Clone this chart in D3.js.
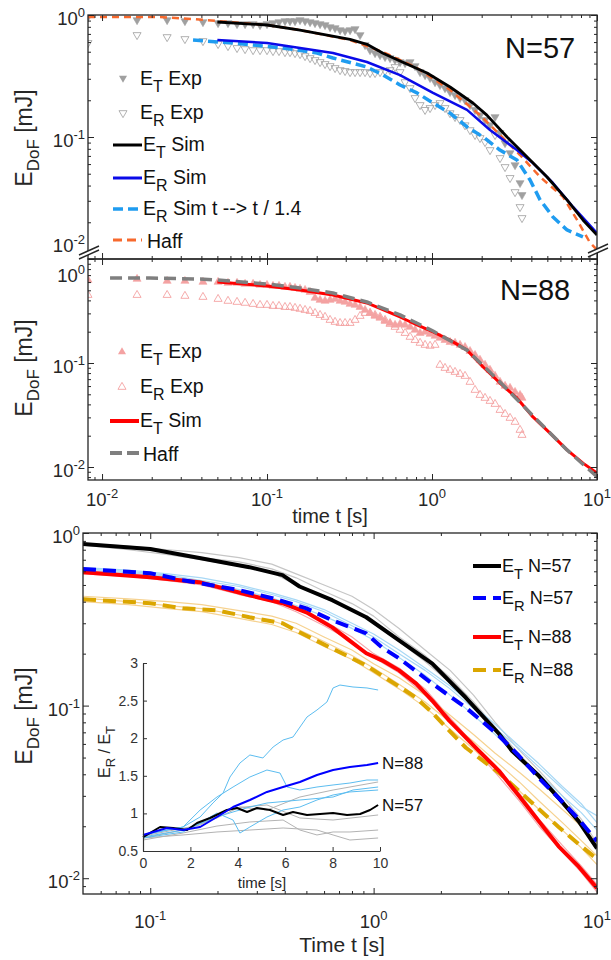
<!DOCTYPE html>
<html><head><meta charset="utf-8">
<script src="https://cdn.jsdelivr.net/npm/d3@7/dist/d3.min.js"></script>
<style>
html,body{margin:0;padding:0;background:#fff;}
svg{font-family:"Liberation Sans",Arial,Helvetica,sans-serif;display:block}
text{white-space:pre}
</style></head><body>
<svg id="chart" width="611" height="960" viewBox="0 0 611 960"></svg>
<script>
// ---------------- DATA ----------------
// experimental time grid (both N=57 and N=88 experiments), seconds
const tExp = [0.00822,0.0163,0.0248,0.0318,0.0409,0.0505,0.0580,0.0658,0.0736,0.0823,0.0907,0.1000,0.1087,0.1182,0.1285,0.1378,0.1478,0.1585,0.1700,0.1823,0.1954,0.2096,0.2247,0.2410,0.2584,0.2771,0.2971,0.3186,0.3416,0.3663,0.3928,0.4211,0.4516,0.4842,0.5192,0.5567,0.5970,0.6401,0.6864,0.7360,0.7892,0.8462,0.9074,0.9730,1.043,1.118,1.199,1.286,1.379,1.479,1.585,1.700,1.823,1.954,2.096,2.247,2.410,2.584,2.771,2.971,3.186,3.416,3.511];
const ET57exp = [0.963,0.910,0.910,0.893,0.876,0.860,0.860,0.844,0.844,0.844,0.828,0.844,0.860,0.876,0.893,0.893,0.893,0.910,0.893,0.876,0.860,0.844,0.828,0.797,0.782,0.753,0.739,0.753,0.768,0.686,0.568,0.516,0.488,0.470,0.453,0.444,0.428,0.412,0.404,0.412,0.382,0.341,0.322,0.305,0.282,0.267,0.252,0.234,0.221,0.209,0.201,0.183,0.167,0.151,0.138,0.125,0.146,0.108,0.0893,0.0739,0.0589,0.0420,0.0335];
const ER57exp = [0.590,0.686,0.660,0.636,0.612,0.579,0.557,0.537,0.526,0.516,0.516,0.516,0.507,0.507,0.497,0.497,0.488,0.479,0.461,0.444,0.428,0.412,0.397,0.382,0.368,0.354,0.348,0.341,0.341,0.341,0.341,0.335,0.335,0.341,0.348,0.354,0.375,0.341,0.282,0.252,0.209,0.183,0.167,0.173,0.183,0.190,0.173,0.157,0.146,0.138,0.125,0.114,0.104,0.0982,0.0910,0.0782,0.104,0.0673,0.0568,0.0462,0.0354,0.0267,0.0217];
const ET88exp = [0.628,0.642,0.614,0.614,0.601,0.601,0.588,0.588,0.575,0.575,0.562,0.562,0.550,0.550,0.538,0.538,0.526,0.515,0.503,0.481,0.422,0.403,0.395,0.403,0.412,0.395,0.386,0.369,0.361,0.345,0.323,0.302,0.283,0.271,0.253,0.242,0.232,0.237,0.232,0.222,0.208,0.194,0.199,0.190,0.182,0.174,0.166,0.159,0.156,0.149,0.142,0.130,0.119,0.107,0.0957,0.0857,0.0750,0.0657,0.0601,0.0575,0.0526,0.0492,0.0461];
const ER88exp = [0.450,0.450,0.450,0.441,0.431,0.412,0.395,0.386,0.378,0.369,0.361,0.361,0.353,0.353,0.345,0.345,0.338,0.331,0.323,0.316,0.302,0.289,0.277,0.259,0.248,0.242,0.242,0.242,0.259,0.283,0.302,0.302,0.289,0.277,0.259,0.237,0.222,0.208,0.194,0.178,0.166,0.156,0.149,0.146,0.149,0.0957,0.0895,0.0857,0.0819,0.0783,0.0750,0.0657,0.0550,0.0492,0.0461,0.0431,0.0403,0.0353,0.0323,0.0296,0.0271,0.0227,0.0203];

// top panel simulations (N=57)
const tET57sim = [0.050,0.100,0.1585,0.3186,0.403,0.505,0.640,0.933,1.286,1.77,2.15,2.85,3.77,4.98,6.58,8.22,10];
const ET57sim  = [0.876,0.828,0.753,0.632,0.575,0.485,0.420,0.335,0.257,0.190,0.151,0.100,0.0686,0.0470,0.0305,0.0209,0.0157];
const tER57sim = [0.050,0.100,0.1585,0.251,0.403,0.640,1.014,1.63,2.247,3.27,4.09,5.41,7.16,10];
const ER57sim  = [0.624,0.590,0.537,0.488,0.412,0.322,0.230,0.167,0.114,0.0782,0.0612,0.0420,0.0267,0.0163];
const tER57scaled = [0.0356,0.0622,0.125,0.201,0.251,0.403,0.505,0.640,0.811,1.014,1.286,1.63,2.04,2.58,3.27,3.93,4.52,5.41,6.58,8.22];
const ER57scaled  = [0.624,0.589,0.537,0.488,0.444,0.375,0.322,0.267,0.230,0.190,0.157,0.121,0.100,0.0782,0.0648,0.0444,0.0305,0.0221,0.0173,0.0152];
const tHaff57 = [0.00822,0.01285,0.0225,0.0356,0.050,0.100,0.1585,0.3186,0.505,0.811,1.286,1.954,2.584,3.416,4.52,6.22,7.57,9.07,10];
const Haff57  = [0.963,0.963,0.963,0.927,0.893,0.828,0.753,0.624,0.497,0.368,0.243,0.151,0.104,0.0712,0.0470,0.0323,0.0209,0.0136,0.0119];

// middle panel simulations (N=88)
const tET88sim = [0.050,0.100,0.1585,0.251,0.403,0.640,0.811,1.014,1.286,1.63,2.04,2.58,3.27,4.09,5.19,6.58,8.22,10];
const ET88sim  = [0.601,0.550,0.503,0.451,0.378,0.277,0.232,0.199,0.166,0.133,0.0916,0.0642,0.0461,0.0303,0.0212,0.0146,0.0109,0.00875];
const tHaff88 = [0.01118,0.01954,0.0393,0.050,0.100,0.1585,0.251,0.403,0.640,1.014,1.63,2.58,4.09,6.58,10];
const Haff88  = [0.656,0.656,0.642,0.628,0.575,0.526,0.471,0.386,0.290,0.203,0.133,0.0658,0.0311,0.0146,0.00807];

// bottom panel: mean curves
const tB_ET57 = [0.05,0.1,0.166,0.278,0.391,0.466,0.653,0.927,1.30,1.83,2.59,3.64,4.16,5.49,6.73,8.27,10];
const B_ET57  = [0.863,0.807,0.716,0.634,0.570,0.490,0.408,0.325,0.239,0.175,0.111,0.0687,0.0547,0.0392,0.0292,0.0214,0.0149];
const tB_ER57 = [0.05,0.1,0.140,0.251,0.352,0.500,0.653,0.927,1.09,1.30,1.83,2.59,3.64,4.47,5.49,6.73,8.27,10];
const B_ER57  = [0.618,0.585,0.533,0.466,0.419,0.366,0.312,0.262,0.217,0.188,0.134,0.0973,0.0669,0.0512,0.0381,0.0292,0.0220,0.0164];
const tB_ET88 = [0.05,0.1,0.166,0.278,0.391,0.500,0.653,0.778,0.927,1.09,1.30,1.55,1.83,2.18,2.59,2.96,3.64,4.47,5.49,6.73,8.27,10];
const B_ET88  = [0.593,0.555,0.519,0.436,0.392,0.347,0.284,0.239,0.201,0.183,0.160,0.134,0.107,0.0818,0.0652,0.0547,0.0419,0.0300,0.0214,0.0153,0.0117,0.00875];
const tB_ER88 = [0.05,0.1,0.140,0.198,0.278,0.391,0.466,0.653,0.927,1.09,1.30,1.55,1.83,2.18,2.59,2.96,3.64,4.47,5.49,6.73,8.27,10];
const B_ER88  = [0.413,0.392,0.366,0.357,0.325,0.300,0.266,0.214,0.171,0.149,0.129,0.111,0.0910,0.0716,0.0570,0.0499,0.0408,0.0321,0.0252,0.0198,0.0158,0.0129];

// bottom panel: individual runs
const tRun = [0.05,0.08,0.12,0.17,0.25,0.35,0.45,0.6,0.8,1.0,1.3,1.7,2.2,2.8,3.5,4.5,5.5,7,8.5,10];
const runET57a = [0.87,0.84,0.80,0.77,0.72,0.66,0.58,0.50,0.43,0.36,0.28,0.21,0.16,0.115,0.080,0.055,0.042,0.030,0.022,0.016];
const runET57b = [0.85,0.80,0.75,0.70,0.64,0.59,0.50,0.42,0.36,0.30,0.235,0.18,0.135,0.10,0.072,0.050,0.038,0.027,0.020,0.0145];
const runET57c = [0.86,0.83,0.78,0.72,0.68,0.62,0.55,0.46,0.39,0.33,0.25,0.195,0.145,0.105,0.075,0.052,0.040,0.028,0.021,0.015];
const runER57a = [0.63,0.61,0.58,0.55,0.50,0.45,0.41,0.36,0.30,0.26,0.21,0.165,0.13,0.10,0.078,0.058,0.046,0.034,0.027,0.021];
const runER57b = [0.61,0.59,0.56,0.52,0.47,0.42,0.38,0.33,0.28,0.24,0.19,0.15,0.115,0.088,0.068,0.050,0.040,0.030,0.024,0.019];
const runER57c = [0.62,0.60,0.57,0.53,0.49,0.44,0.40,0.35,0.29,0.25,0.20,0.16,0.125,0.096,0.074,0.056,0.044,0.033,0.026,0.023];
const runET88a = [0.60,0.58,0.55,0.52,0.46,0.41,0.37,0.31,0.25,0.20,0.165,0.125,0.085,0.060,0.045,0.031,0.022,0.0155,0.0118,0.0092];
const runET88b = [0.58,0.56,0.53,0.50,0.44,0.40,0.35,0.29,0.235,0.19,0.155,0.115,0.080,0.057,0.041,0.028,0.020,0.0142,0.0108,0.0083];
const runER88a = [0.43,0.415,0.40,0.385,0.355,0.33,0.30,0.25,0.21,0.175,0.145,0.115,0.088,0.068,0.053,0.041,0.033,0.025,0.020,0.016];
const runER88b = [0.40,0.385,0.365,0.35,0.32,0.295,0.265,0.22,0.185,0.155,0.125,0.098,0.073,0.056,0.043,0.032,0.025,0.019,0.015,0.012];
const runER88c = [0.42,0.40,0.38,0.365,0.335,0.31,0.28,0.235,0.195,0.165,0.133,0.105,0.080,0.062,0.048,0.036,0.028,0.021,0.0165,0.0135];

// inset: E_R / E_T versus time
const tIn88 = [0,1.01,1.69,2.41,3.12,3.80,4.51,5.23,5.91,6.62,7.34,8.02,8.73,9.45,9.92];
const rIn88 = [0.713,0.806,0.779,0.819,0.952,1.085,1.178,1.285,1.351,1.418,1.511,1.577,1.617,1.644,1.670];
const tIn57 = [0,0.72,1.27,1.86,2.28,2.83,3.54,3.97,4.39,4.81,5.36,5.91,6.33,6.92,7.47,8.02,8.61,9.16,9.58,9.92];
const rIn57 = [0.686,0.819,0.806,0.779,0.872,0.939,1.045,1.072,1.019,1.072,1.045,0.979,1.019,0.979,0.992,1.005,0.979,0.992,1.045,1.112];
const inBlueRuns = [
  {t:[0,1.01,1.69,2.41,2.95,3.38,3.67,4.09,4.51,5.06,5.49,5.91,6.33,6.92,7.34,7.76,8.02,8.31,8.86,9.45,9.92],
   r:[0.713,0.779,0.819,0.952,1.138,1.271,1.484,1.670,1.777,1.737,1.883,1.976,2.016,2.282,2.375,2.481,2.668,2.707,2.681,2.668,2.641]},
  {t:[0,1.69,2.41,3.12,3.80,4.51,5.23,5.78,6.08,6.62,7.34,8.02,8.73,9.45,9.92],
   r:[0.713,0.819,1.045,1.218,1.351,1.484,1.577,1.537,1.351,1.311,1.351,1.378,1.404,1.444,1.444]},
  {t:[0,1.69,3.12,3.80,4.51,5.23,6.62,8.02,8.86,9.92],
   r:[0.686,0.779,0.952,1.019,1.085,1.138,1.178,1.218,1.311,1.351]},
  {t:[0,1.69,2.41,3.12,3.80,4.09,4.51,5.23,5.91,6.62,7.34,8.02,8.73,9.92],
   r:[0.673,0.753,0.872,1.005,0.912,0.739,0.819,0.952,1.045,1.085,1.178,1.245,1.285,1.311]}
];
const inGrayRuns = [
  {t:[0,1.69,3.12,4.09,5.23,6.62,8.02,9.92], r:[0.673,0.779,0.939,1.085,1.045,1.218,1.311,1.418]},
  {t:[0,1.69,3.12,4.51,5.91,6.62,7.34,8.02,8.73,9.92], r:[0.646,0.739,0.832,0.886,0.912,0.779,0.713,0.753,0.753,0.779]},
  {t:[0,1.69,3.12,4.51,5.91,7.34,8.02,8.73,9.92], r:[0.673,0.713,0.753,0.779,0.806,0.779,0.713,0.646,0.673]},
  {t:[0,2.41,3.80,5.23,6.62,8.02,9.92], r:[0.699,0.846,1.072,1.112,0.939,0.912,0.979]}
];

// tick labels
const yTicks = [1, 0.1, 0.01];            const yTickExp = ["0","-1","-2"];
const xTicksTop = [0.01, 0.1, 1, 10];     const xTickExpTop = ["-2","-1","0","1"];
const xTicksBot = [0.1, 1, 10];           const xTickExpBot = ["-1","0","1"];
const inTicksX = [0,2,4,6,8,10];
const inTicksY = [0.5,1,1.5,2,2.5,3];

// ---------------- DRAWING ----------------
const svg = d3.select("#chart");
const AX = "#262626";

const xTop = d3.scaleLog().domain([0.00822, 10]).range([88, 597]);
const yTop = d3.scaleLog().domain([0.01, 1]).range([259, 15]);
const yMid = d3.scaleLog().domain([0.0075, 1]).range([480, 259]);
const xBot = d3.scaleLog().domain([0.05, 10]).range([83, 597]);
const yBot = d3.scaleLog().domain([0.0081, 1]).range([894, 533]);
const xIn = d3.scaleLinear().domain([0, 10]).range([143, 380]);
const yIn = d3.scaleLinear().domain([0.5, 3]).range([851, 663]);

const defs = svg.append("defs");
function clip(id, x, y) {
  const [x0, x1] = x.range(), [y0, y1] = y.range();
  defs.append("clipPath").attr("id", id).append("rect")
    .attr("x", x0).attr("y", y1).attr("width", x1 - x0).attr("height", y0 - y1);
  return svg.append("g").attr("clip-path", `url(#${id})`);
}

function logTickVals(scale) {
  const [a, b] = scale.domain(); const lo = Math.min(a, b), hi = Math.max(a, b);
  const maj = [], min = [];
  for (let e = -3; e <= 1; e++) {
    const p = Math.pow(10, e);
    if (p >= lo * 0.999 && p <= hi * 1.001) maj.push(p);
    for (let k = 2; k <= 9; k++) { const v = k * p; if (v > lo && v < hi) min.push(v); }
  }
  return { maj, min };
}

function frame(x, y) {
  const g = svg.append("g").attr("color", AX);
  const [x0, x1] = x.range(), [y0, y1] = y.range();
  const tx = logTickVals(x), ty = logTickVals(y);
  const add = (axis, tr) => g.append("g").attr("transform", tr)
    .call(axis.tickFormat("").tickSizeOuter(0))
    .call(s => { s.select(".domain").remove(); s.selectAll("line").attr("stroke-width", 1); });
  [[tx.maj, 6], [tx.min, 3]].forEach(([v, s]) => {
    add(d3.axisBottom(x).tickValues(v).tickSizeInner(-s), `translate(0,${y0})`);
    add(d3.axisTop(x).tickValues(v).tickSizeInner(-s), `translate(0,${y1})`);
  });
  [[ty.maj, 6], [ty.min, 3]].forEach(([v, s]) => {
    add(d3.axisLeft(y).tickValues(v).tickSizeInner(-s), `translate(${x0},0)`);
    add(d3.axisRight(y).tickValues(v).tickSizeInner(-s), `translate(${x1},0)`);
  });
  g.append("rect").attr("x", x0).attr("y", y1).attr("width", x1 - x0).attr("height", y0 - y1)
    .attr("fill", "none").attr("stroke", AX).attr("stroke-width", 1.3);
}

function pow10(x, y, exp, anchor) {
  const t = svg.append("text").attr("x", x).attr("y", y).attr("text-anchor", anchor)
    .attr("font-size", 18.5).attr("fill", AX);
  t.append("tspan").text("10");
  t.append("tspan").attr("dy", -8).attr("font-size", 13).text(exp);
}

function lineD(x, y, ts, vs) {
  return d3.line().x((d, i) => x(ts[i])).y(d => y(d))(vs);
}
function drawLine(g, x, y, ts, vs, color, w, dash) {
  g.append("path").attr("d", lineD(x, y, ts, vs)).attr("fill", "none")
    .attr("stroke", color).attr("stroke-width", w).attr("stroke-linejoin", "round")
    .attr("stroke-dasharray", dash || null);
}
const tri = d3.symbol().type(d3.symbolTriangle).size(28);
function drawMarkers(g, x, y, ts, vs, down, filled, color) {
  g.selectAll(null).data(vs).enter().append("path").attr("d", tri)
    .attr("transform", (d, i) => `translate(${x(ts[i])},${y(d)})${down ? " rotate(180)" : ""}`)
    .attr("fill", filled ? color : "none").attr("stroke", color)
    .attr("stroke-width", filled ? 0.6 : 0.9);
}
function legendText(x, y, main, sub, rest, size) {
  size = size || 19.5;
  const t = svg.append("text").attr("x", x).attr("y", y).attr("font-size", size).attr("fill", "#111");
  t.append("tspan").text(main);
  if (sub) {
    t.append("tspan").attr("dy", 7).attr("font-size", size * 0.82).text(sub);
    t.append("tspan").attr("dy", -7).text(rest);
  } else t.append("tspan").text(rest);
}
function legendLine(x0, x1, y, color, w, dash) {
  svg.append("line").attr("x1", x0).attr("x2", x1).attr("y1", y).attr("y2", y)
    .attr("stroke", color).attr("stroke-width", w).attr("stroke-dasharray", dash || null);
}
function yLabel(cx, cy) {
  const t = svg.append("text").attr("transform", `translate(${cx},${cy}) rotate(-90)`)
    .attr("text-anchor", "middle").attr("font-size", 23).attr("fill", AX);
  t.append("tspan").text("E");
  t.append("tspan").attr("dy", 7).attr("font-size", 17).text("DoF");
  t.append("tspan").attr("dy", -7).text(" [mJ]");
}
function breakMark(cx, cy) {
  const g = svg.append("g");
  g.append("path").attr("d", `M${cx - 10},${cy + 3}L${cx + 10},${cy - 6}L${cx + 10},${cy - 2}L${cx - 10},${cy + 7}Z`)
    .attr("fill", "#fff");
  g.append("path").attr("d", `M${cx - 10},${cy + 3}L${cx + 10},${cy - 6}M${cx - 10},${cy + 7}L${cx + 10},${cy - 2}`)
    .attr("stroke", AX).attr("stroke-width", 1.4);
}

// ===== Panel 1 (N=57) =====
const GRAY = "#a0a0a0", PINK = "#f4a2a2";
const g1 = clip("c1", xTop, yTop);
drawMarkers(g1, xTop, yTop, tExp, ER57exp, true, false, "#a8a8a8");
drawMarkers(g1, xTop, yTop, tExp, ET57exp, true, true, GRAY);
drawLine(g1, xTop, yTop, tHaff57, Haff57, "#f7692d", 2.5, "7,5");
drawLine(g1, xTop, yTop, tER57scaled, ER57scaled, "#1f9cf0", 3.5, "10,5");
drawLine(g1, xTop, yTop, tER57sim, ER57sim, "#0a0ae8", 2.5);
drawLine(g1, xTop, yTop, tET57sim, ET57sim, "#000", 2.8);
frame(xTop, yTop);

// ===== Panel 2 (N=88) =====
const g2 = clip("c2", xTop, yMid);
drawMarkers(g2, xTop, yMid, tExp, ER88exp, false, false, PINK);
drawMarkers(g2, xTop, yMid, tExp, ET88exp, false, true, PINK);
drawLine(g2, xTop, yMid, tET88sim, ET88sim, "#ff0000", 3);
drawLine(g2, xTop, yMid, tHaff88, Haff88, "#7f7f7f", 3.5, "12,6");
frame(xTop, yMid);

// ===== Panel 3 (bottom) =====
const g3 = clip("c3", xBot, yBot);
[runET57a, runET57b, runET57c].forEach(v => drawLine(g3, xBot, yBot, tRun, v, "#c6c6c6", 1.2));
[runER57a, runER57b, runER57c].forEach(v => drawLine(g3, xBot, yBot, tRun, v, "#a8d8f5", 1.2));
[runET88a, runET88b].forEach(v => drawLine(g3, xBot, yBot, tRun, v, "#f4a8ad", 1.2));
[runER88a, runER88b, runER88c].forEach(v => drawLine(g3, xBot, yBot, tRun, v, "#f6d290", 1.2));
drawLine(g3, xBot, yBot, tB_ER88, B_ER88, "#dba600", 4, "13,7");
drawLine(g3, xBot, yBot, tB_ET88, B_ET88, "#ff0000", 4);
drawLine(g3, xBot, yBot, tB_ET57, B_ET57, "#000", 4);
drawLine(g3, xBot, yBot, tB_ER57, B_ER57, "#0000ff", 4, "13,7");
frame(xBot, yBot);

// inset
const gi = svg.append("g");
inGrayRuns.forEach(d => drawLine(gi, xIn, yIn, d.t, d.r, "#b3b3b3", 1));
inBlueRuns.forEach(d => drawLine(gi, xIn, yIn, d.t, d.r, "#5cbdf0", 1));
drawLine(gi, xIn, yIn, tIn57, rIn57, "#000", 2);
drawLine(gi, xIn, yIn, tIn88, rIn88, "#0000ff", 2);
const ia = svg.append("g").attr("color", "#333");
ia.append("g").attr("transform", "translate(0,851)")
  .call(d3.axisBottom(xIn).tickValues(inTicksX).tickSizeInner(-4).tickSizeOuter(0).tickPadding(6))
  .call(s => { s.selectAll("text").attr("font-size", 14).attr("font-family", "inherit").attr("dy", "0.8em"); s.select(".domain").attr("stroke-width", 1.2); });
ia.append("g").attr("transform", "translate(143,0)")
  .call(d3.axisLeft(yIn).tickValues(inTicksY).tickSizeInner(-4).tickSizeOuter(0).tickPadding(5).tickFormat(d3.format("")))
  .call(s => { s.selectAll("text").attr("font-size", 14).attr("font-family", "inherit"); s.select(".domain").attr("stroke-width", 1.2); });
svg.append("text").attr("x", 262).attr("y", 888).attr("text-anchor", "middle").attr("font-size", 15).attr("fill", AX).text("time [s]");
{
  const t = svg.append("text").attr("transform", "translate(110,752) rotate(-90)")
    .attr("text-anchor", "middle").attr("font-size", 16).attr("fill", AX);
  t.append("tspan").text("E"); t.append("tspan").attr("dy", 5).attr("font-size", 13).text("R");
  t.append("tspan").attr("dy", -5).text(" / E"); t.append("tspan").attr("dy", 5).attr("font-size", 13).text("T");
}
svg.append("text").attr("x", 382).attr("y", 769).attr("font-size", 17).attr("fill", "#111").text("N=88");
svg.append("text").attr("x", 382).attr("y", 811).attr("font-size", 17).attr("fill", "#111").text("N=57");

// ---------- tick labels ----------
yTicks.forEach((v, i) => {
  let yy = yTop(v) + 10; if (v === 0.01) yy = 252;
  pow10(85, yy, yTickExp[i], "end");
  let ym = yMid(v) + 10; if (v === 1) ym = 282;
  pow10(85, ym, yTickExp[i], "end");
  pow10(80, yBot(v) + 10, yTickExp[i], "end");
});
xTicksTop.forEach((v, i) => pow10(xTop(v), 506, xTickExpTop[i], "middle"));
xTicksBot.forEach((v, i) => pow10(xBot(v), 928, xTickExpBot[i], "middle"));

// axis labels
yLabel(32, 138); yLabel(32, 368); yLabel(32, 716);
svg.append("text").attr("x", 330).attr("y", 523).attr("text-anchor", "middle").attr("font-size", 20).attr("fill", AX).text("time t [s]");
svg.append("text").attr("x", 342).attr("y", 952).attr("text-anchor", "middle").attr("font-size", 21).attr("fill", AX).text("Time t [s]");

// break marks
breakMark(89, 252); breakMark(598, 250);

// panel titles
svg.append("text").attr("x", 505).attr("y", 58).attr("font-size", 29).attr("fill", "#111").text("N=57");
svg.append("text").attr("x", 500).attr("y", 300).attr("font-size", 29).attr("fill", "#111").text("N=88");

// ---------- legends ----------
svg.append("path").attr("d", tri).attr("transform", "translate(123,78) rotate(180)").attr("fill", GRAY);
legendText(140, 85, "E", "T", " Exp");
svg.append("path").attr("d", tri).attr("transform", "translate(123,113) rotate(180)").attr("fill", "none").attr("stroke", "#a8a8a8").attr("stroke-width", 0.9);
legendText(140, 119, "E", "R", " Exp");
legendLine(113, 142, 145, "#000", 3); legendText(143, 151, "E", "T", " Sim");
legendLine(113, 142, 178, "#0a0ae8", 3); legendText(143, 184, "E", "R", " Sim");
legendLine(113, 142, 209, "#1f9cf0", 3.5, "10,5"); legendText(143, 215, "E", "R", " Sim t --> t / 1.4");
legendLine(113, 142, 240, "#f7692d", 3, "9,5"); legendText(147, 248, "Ha", null, "ff");

svg.append("path").attr("d", tri).attr("transform", "translate(122,352)").attr("fill", PINK);
legendText(140, 358, "E", "T", " Exp");
svg.append("path").attr("d", tri).attr("transform", "translate(122,387)").attr("fill", "none").attr("stroke", PINK).attr("stroke-width", 0.9);
legendText(140, 393, "E", "R", " Exp");
legendLine(110, 139, 421, "#ff0000", 4); legendText(140, 427, "E", "T", " Sim");
legendLine(110, 140, 453, "#7f7f7f", 4, "12,5"); legendText(143, 461, "Ha", null, "ff");

legendLine(473, 501, 566, "#000", 4); legendText(502, 572, "E", "T", " N=57", 18);
legendLine(473, 501, 598, "#0000ff", 4, "13,7"); legendText(502, 604, "E", "R", " N=57", 18);
legendLine(473, 501, 637, "#ff0000", 4); legendText(502, 643, "E", "T", " N=88", 18);
legendLine(473, 501, 670, "#dba600", 4, "13,7"); legendText(502, 676, "E", "R", " N=88", 18);
</script></body></html>
